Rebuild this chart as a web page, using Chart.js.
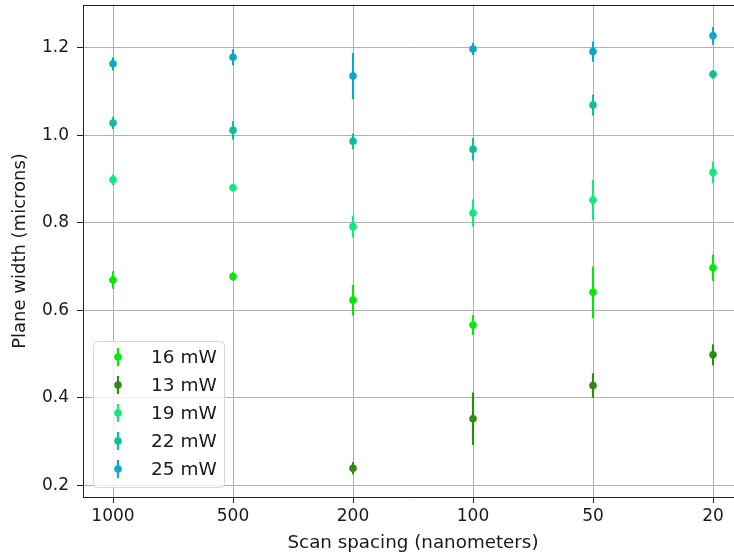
<!DOCTYPE html>
<html lang="en">
<head>
<meta charset="UTF-8">
<title>Plane width vs scan spacing</title>
<script src="https://cdn.jsdelivr.net/npm/chart.js"></script>
<style>
    body { margin: 0; background: #fff; overflow: hidden; }
    #wrap { position: relative; width: 760px; height: 559px; }
</style>
</head>
<body>
<div id="wrap"><canvas id="chart"></canvas></div>
<script>
// x positions are categories, plotted at 0..5
const spacingLabels = ['1000', '500', '200', '100', '50', '20'];
const yTicks = [0.2, 0.4, 0.6, 0.8, 1.0, 1.2];

const seriesLabels = ['16 mW', '13 mW', '19 mW', '22 mW', '25 mW'];
const seriesColors = ['#08e808', '#2e8b17', '#12e87e', '#12bc9c', '#10a6c8'];

const width16 = [0.669, 0.677, 0.623, 0.566, 0.641, 0.697];
const err16   = [0.020, 0.010, 0.035, 0.023, 0.059, 0.030];
const width13 = [null, null, 0.239, 0.352, 0.428, 0.498];
const err13   = [0, 0, 0.014, 0.060, 0.028, 0.024];
const width19 = [0.898, 0.880, 0.791, 0.822, 0.852, 0.915];
const err19   = [0.012, 0.009, 0.025, 0.031, 0.046, 0.025];
const width22 = [1.028, 1.011, 0.986, 0.968, 1.069, 1.139];
const err22   = [0.014, 0.021, 0.018, 0.026, 0.024, 0.010];
const width25 = [1.163, 1.178, 1.135, 1.197, 1.191, 1.227];
const err25   = [0.015, 0.018, 0.053, 0.014, 0.023, 0.020];

const allWidths = [width16, width13, width19, width22, width25];
const allErrs = [err16, err13, err19, err22, err25];

const FONT = '"DejaVu Sans", sans-serif';

const datasets = seriesLabels.map((label, s) => {
    const pts = [], errs = [];
    allWidths[s].forEach((v, i) => {
        if (v === null) return;
        pts.push({ x: i, y: v });
        errs.push(allErrs[s][i]);
    });
    return {
        label: label,
        data: pts,
        errors: errs,
        showLine: false,
        borderColor: seriesColors[s],
        backgroundColor: seriesColors[s],
        pointRadius: 3.8,
        pointBorderWidth: 0
    };
});

// vertical error bars, drawn under each series' markers
const errorBars = {
    id: 'errorBars',
    beforeDatasetDraw(chart, args) {
        const ds = chart.data.datasets[args.index];
        const xs = chart.scales.x, ys = chart.scales.y;
        const ctx = chart.ctx;
        ctx.save();
        ctx.strokeStyle = ds.borderColor;
        ctx.lineWidth = 2.2;
        ds.data.forEach((p, i) => {
            const e = ds.errors[i];
            const x = xs.getPixelForValue(p.x);
            ctx.beginPath();
            ctx.moveTo(x, ys.getPixelForValue(p.y - e));
            ctx.lineTo(x, ys.getPixelForValue(p.y + e));
            ctx.stroke();
        });
        ctx.restore();
    }
};

// top spine + legend inside the plot, lower left
const frameAndLegend = {
    id: 'frameAndLegend',
    afterDraw(chart) {
        const { ctx, chartArea } = chart;
        ctx.save();
        ctx.strokeStyle = '#222';
        ctx.lineWidth = 1;
        ctx.beginPath();
        ctx.moveTo(chartArea.left, Math.round(chartArea.top) + 0.5);
        ctx.lineTo(chartArea.right, Math.round(chartArea.top) + 0.5);
        ctx.stroke();

        const rowH = 28, boxW = 131, boxH = 146;
        const left = chartArea.left + 10;
        const top = chartArea.bottom - 10 - boxH;
        ctx.fillStyle = 'rgba(255,255,255,0.8)';
        ctx.strokeStyle = '#d6d6d6';
        ctx.beginPath();
        ctx.roundRect(left + 0.5, top + 0.5, boxW, boxH, 4);
        ctx.fill();
        ctx.stroke();

        ctx.font = '18.5px ' + FONT;
        ctx.textBaseline = 'middle';
        chart.data.datasets.forEach((ds, i) => {
            const y = top + 16 + i * rowH;
            const mx = left + 25;
            ctx.strokeStyle = ds.borderColor;
            ctx.lineWidth = 2.2;
            ctx.beginPath();
            ctx.moveTo(mx, y - 9);
            ctx.lineTo(mx, y + 9);
            ctx.stroke();
            ctx.fillStyle = ds.backgroundColor;
            ctx.beginPath();
            ctx.arc(mx, y, 3.8, 0, Math.PI * 2);
            ctx.fill();
            ctx.fillStyle = '#1a1a1a';
            ctx.fillText(ds.label, left + 58, y + 1);
        });
        ctx.restore();
    }
};

new Chart(document.getElementById('chart'), {
    type: 'scatter',
    data: { datasets: datasets },
    plugins: [errorBars, frameAndLegend],
    options: {
        responsive: true,
        maintainAspectRatio: false,
        animation: false,
        events: [],
        layout: { padding: { top: 5, right: 17, left: 0, bottom: 0 } },
        plugins: {
            legend: { display: false },
            tooltip: { enabled: false }
        },
        scales: {
            x: {
                type: 'linear',
                min: -0.25,
                max: 5.25,
                afterBuildTicks: scale => { scale.ticks = spacingLabels.map((_, i) => ({ value: i })); },
                afterFit: scale => {
                    scale.height = 62;
                    scale.paddingLeft = 0;
                    scale.paddingRight = 0;
                },
                ticks: {
                    callback: v => spacingLabels[v],
                    color: '#1a1a1a',
                    font: { family: FONT, size: 17 },
                    padding: 3,
                    maxRotation: 0,
                    autoSkip: false
                },
                grid: { color: '#b0b0b0', lineWidth: 1, tickColor: '#222', tickLength: 6 },
                border: { color: '#222', width: 1 },
                title: {
                    display: true,
                    text: 'Scan spacing (nanometers)',
                    color: '#1a1a1a',
                    font: { family: FONT, size: 18.3 },
                    padding: { top: 0, bottom: 5 }
                }
            },
            y: {
                min: 0.1732,
                max: 1.2975,
                afterBuildTicks: scale => { scale.ticks = yTicks.map(v => ({ value: v })); },
                afterFit: scale => {
                    scale.width = 83;
                    scale.paddingTop = 0;
                    scale.paddingBottom = 0;
                },
                ticks: {
                    callback: v => v.toFixed(1),
                    color: '#1a1a1a',
                    font: { family: FONT, size: 17 },
                    padding: 8
                },
                grid: { color: '#b0b0b0', lineWidth: 1, tickColor: '#222', tickLength: 6 },
                border: { color: '#222', width: 1 },
                title: {
                    display: true,
                    text: 'Plane width (microns)',
                    color: '#1a1a1a',
                    font: { family: FONT, size: 18 },
                    padding: { top: 10, bottom: 0 }
                }
            }
        }
    }
});
</script>
</body>
</html>
